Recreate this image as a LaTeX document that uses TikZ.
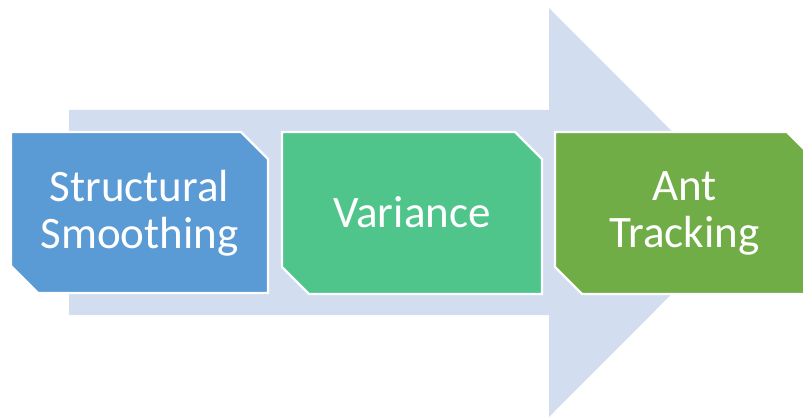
\documentclass[tikz,border=0pt]{standalone}
\usepackage{fontspec}
\setmainfont{Carlito}
\definecolor{arrowfill}{HTML}{D2DEEF}
\definecolor{boxblue}{HTML}{5B9BD5}
\definecolor{boxteal}{HTML}{4FC58C}
\definecolor{boxgreen}{HTML}{70AD47}
\tikzset{
  snipbox/.style={draw=white, line width=2.2pt, line join=miter},
  lbl/.style={text=white, align=center, inner sep=0pt, font=\fontsize{45}{47}\selectfont}
}
\begin{document}
\begin{tikzpicture}[x=1pt,y=-1pt]
\useasboundingbox (0,0) rectangle (803,417);
\clip (0,0) rectangle (803,417);
% big background arrow
\fill[arrowfill] (69,110) -- (549,110) -- (549,8) -- (753,212.5) -- (549,417) -- (549,315) -- (69,315) -- cycle;
% boxes
\draw[snipbox, fill=boxblue] (11,132) -- (241,132) -- (268,159) -- (268,293) -- (38,293) -- (11,266) -- cycle;
\draw[snipbox, fill=boxteal] (282,132) -- (515,132) -- (542,159) -- (542,294) -- (309,294) -- (282,267) -- cycle;
\draw[snipbox, fill=boxgreen] (555,132) -- (787,132) -- (814,159) -- (814,294) -- (582,294) -- (555,267) -- cycle;
% labels
\node[lbl] (t1) at (139.5,213) {Structural\\Smoothing};
\node[lbl] (t2) at (412,212.5) {Variance};
\node[lbl] (t3) at (684.5,213) {Ant\\Tracking};
\end{tikzpicture}
\end{document}
